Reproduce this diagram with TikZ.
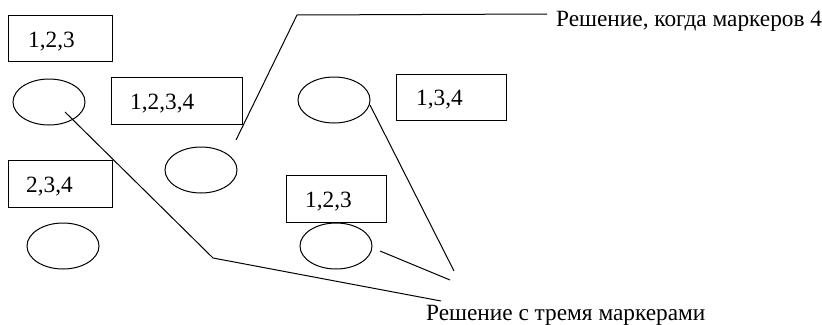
\documentclass[tikz,border=0pt]{standalone}
\usepackage{fontspec}
\setmainfont{Liberation Serif}
\begin{document}
\begin{tikzpicture}[x=1pt,y=-1pt,
  box/.style={draw,line width=1pt,inner sep=0pt},
  txt/.style={inner sep=0pt,anchor=base west,font=\fontsize{23.3}{27}\selectfont},
  lead/.style={line width=1pt}]
\useasboundingbox (0,0) rectangle (822,324);
% boxes
\node[box,minimum width=104pt,minimum height=46pt] (b1) at (60,38) {};
\node[txt] (t1) at (28,47) {1,2,3};
\node[box,minimum width=131pt,minimum height=47pt] (b2) at (176.5,100.5) {};
\node[txt] (t2) at (130,109) {1,2,3,4};
\node[box,minimum width=104pt,minimum height=47pt] (b3) at (60,183.5) {};
\node[txt] (t3) at (26,192) {2,3,4};
\node[box,minimum width=100pt,minimum height=47pt] (b4) at (336,198.5) {};
\node[txt] (t4) at (305,207) {1,2,3};
\node[box,minimum width=110pt,minimum height=46pt] (b5) at (451,97) {};
\node[txt] (t5) at (416,105) {1,3,4};
% ellipses
\draw[lead] (49,102) ellipse [x radius=36, y radius=23];
\coordinate (e1) at (65,112);
\draw[lead] (201,170) ellipse [x radius=36, y radius=23];
\draw[lead] (63,246) ellipse [x radius=36, y radius=23];
\draw[lead] (336,246) ellipse [x radius=36, y radius=23];
\coordinate (e4) at (380,251);
\draw[lead] (334,100) ellipse [x radius=36, y radius=23];
\coordinate (e5) at (370,105);
% labels
\node[txt] (L1) at (556,27) {Решение, когда маркеров 4};
\node[txt] (L2) at (426,320) {Решение с тремя маркерами};
% leader lines
\coordinate (a0) at (236,140);
\coordinate (a1) at (297,15);
\coordinate (a2) at (547,14);
\draw[lead] (a0) -- (a1) -- (a2);
\coordinate (c1) at (213,258);
\coordinate (c2) at (441,301);
\draw[lead] (e1) -- (c1) -- (c2);
\coordinate (d1) at (454,271);
\draw[lead] (e5) -- (d1);
\coordinate (d2) at (450,280);
\draw[lead] (e4) -- (d2);
\end{tikzpicture}
\end{document}
